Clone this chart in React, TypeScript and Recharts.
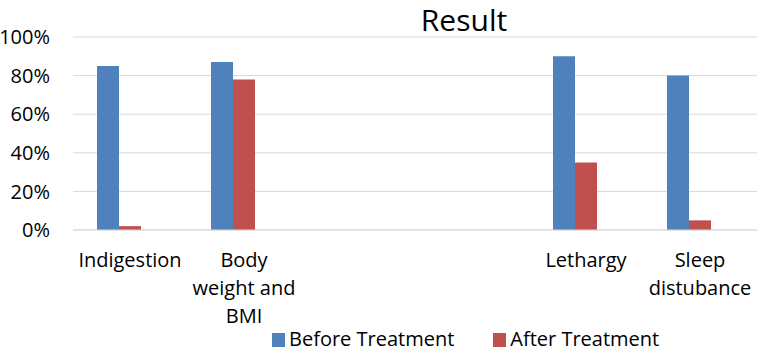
import { Bar, BarChart, CartesianGrid, Legend, XAxis, YAxis } from "recharts";

const categories = ["Indigestion", "Body weight and BMI", "", "", "Lethargy", "Sleep distubance"];
const beforeTreatment = [85, 87, null, null, 90, 80];
const afterTreatment = [2, 78, null, null, 35, 5];
const seriesNames = ["Before Treatment", "After Treatment"];
const yTicks = [0, 20, 40, 60, 80, 100];

const FONT = "'Open Sans', sans-serif";
const BLUE = "#4F81BD";
const RED = "#C0504D";
const GRID = "#D9D9D9";

const data = categories.map((name, i) => ({
  name,
  before: beforeTreatment[i],
  after: afterTreatment[i],
  extra: null,
}));

// greedy word wrap, roughly like the original label layout
function wrap(label: string, maxChars = 10): string[] {
  const lines: string[] = [];
  let cur = "";
  label.split(" ").forEach((w) => {
    if (!cur) cur = w;
    else if ((cur + " " + w).length <= maxChars) cur += " " + w;
    else {
      lines.push(cur);
      cur = w;
    }
  });
  if (cur) lines.push(cur);
  return lines;
}

const CategoryTick = ({ x, y, payload }: any) => {
  const lines = wrap(String(payload.value || ""));
  return (
    <text x={x} y={y} textAnchor="middle" fontFamily={FONT} fontSize={20} fill="#000">
      {lines.map((l, i) => (
        <tspan key={i} x={x} dy={i === 0 ? 37 : 28}>
          {l}
        </tspan>
      ))}
    </text>
  );
};

const LegendContent = ({ payload }: any) => {
  // keep only the two real series, in series order
  const items = seriesNames
    .map((n) => (payload || []).find((p: any) => p.value === n))
    .filter(Boolean);
  return (
    <div
      style={{
        height: 30,
        display: "flex",
        fontFamily: FONT,
        fontSize: 20,
        lineHeight: "20px",
        color: "#000",
        paddingLeft: 272,
        gap: 39,
        whiteSpace: "nowrap",
      }}
    >
      {items.map((entry: any) => (
        <div key={entry.value} style={{ display: "flex", alignItems: "flex-start" }}>
          <span
            style={{
              display: "inline-block",
              width: 13,
              height: 14,
              marginTop: 4,
              marginRight: 4,
              background: entry.color,
            }}
          />
          <span>{entry.value}</span>
        </div>
      ))}
    </div>
  );
};

export default function App() {
  return (
    <div style={{ position: "absolute", left: 0, top: 0, width: 758, height: 355, background: "#fff" }}>
      <div
        style={{
          position: "absolute",
          left: 464,
          top: 5,
          transform: "translateX(-50%)",
          fontFamily: FONT,
          fontSize: 30,
          lineHeight: "30px",
          color: "#000",
          whiteSpace: "nowrap",
          zIndex: 2,
        }}
      >
        Result
      </div>
      <BarChart
        width={758}
        height={355}
        data={data}
        margin={{ top: 37, right: 1, left: 0, bottom: 30 }}
        barSize={22}
        barGap={0}
      >
        <CartesianGrid vertical={false} stroke={GRID} strokeWidth={1} />
        <XAxis
          dataKey="name"
          height={65}
          axisLine={{ stroke: GRID }}
          tickLine={false}
          tickSize={0}
          tickMargin={0}
          interval={0}
          tick={<CategoryTick />}
        />
        <YAxis
          width={73}
          domain={[0, 100]}
          ticks={yTicks}
          tickFormatter={(v) => `${v}%`}
          axisLine={false}
          tickLine={false}
          tickSize={0}
          tickMargin={23}
          tick={{ fontFamily: FONT, fontSize: 20, fill: "#000" }}
        />
        <Legend
          content={<LegendContent />}
          wrapperStyle={{ top: 329, left: 0, width: 758 }}
        />
        <Bar dataKey="before" name={seriesNames[0]} fill={BLUE} isAnimationActive={false} />
        <Bar dataKey="after" name={seriesNames[1]} fill={RED} isAnimationActive={false} />
        <Bar dataKey="extra" name="extra" fill="#9BBB59" legendType="none" isAnimationActive={false} />
      </BarChart>
    </div>
  );
}
